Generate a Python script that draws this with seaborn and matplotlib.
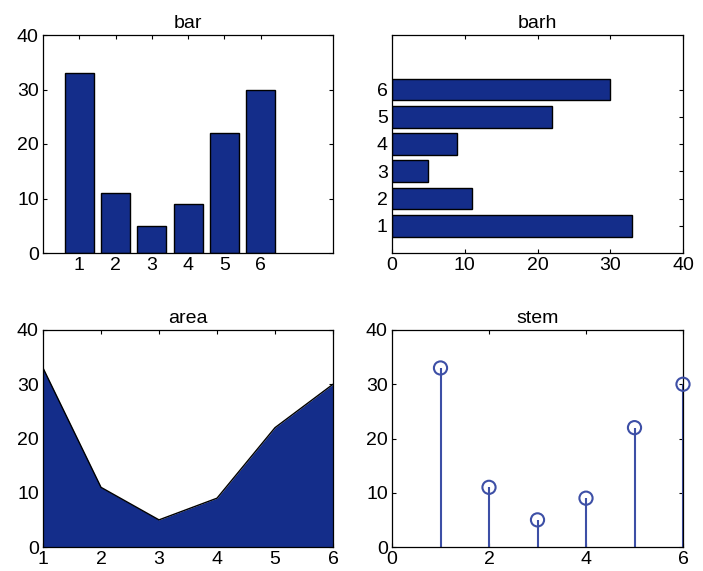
import numpy as np
import pandas as pd
import matplotlib
matplotlib.use('Agg')
import matplotlib.pyplot as plt
import seaborn as sns

# Data
positions = [1, 2, 3, 4, 5, 6]
values = [33, 11, 5, 9, 22, 30]

BAR_COLOR = "#142d8a"
STEM_COLOR = "#3d4fa6"

sns.set_style("ticks", {"xtick.direction": "in", "ytick.direction": "in"})
plt.rcParams['font.family'] = ['Liberation Sans', 'DejaVu Sans']
plt.rcParams['xtick.labelsize'] = 14
plt.rcParams['ytick.labelsize'] = 14
plt.rcParams['axes.titlesize'] = 14
plt.rcParams['axes.titlecolor'] = 'black'
plt.rcParams['axes.linewidth'] = 0.9

df = pd.DataFrame({"x": positions, "y": values})

fig = plt.figure(figsize=(7.03, 5.71), dpi=100)
W, H = 703, 571


def add_ax(left, top, right, bottom):
    return fig.add_axes([left / W, 1 - bottom / H, (right - left) / W, (bottom - top) / H])


ax_bar = add_ax(43, 35, 333, 253)
ax_barh = add_ax(392, 35, 683, 253)
ax_area = add_ax(43, 330, 333, 547)
ax_stem = add_ax(392, 330, 683, 547)

# --- bar ---
sns.barplot(data=df, x="x", y="y", native_scale=True, width=0.8, color=BAR_COLOR,
            saturation=1, edgecolor="black", linewidth=1, ax=ax_bar)
ax_bar.set_xlim(0, 8)
ax_bar.set_ylim(0, 40)
ax_bar.set_xticks(positions)
ax_bar.set_yticks([0, 10, 20, 30, 40])
ax_bar.set_title("bar", pad=5)

# --- barh ---
sns.barplot(data=df, x="y", y="x", orient="h", native_scale=True, width=0.8, color=BAR_COLOR,
            saturation=1, edgecolor="black", linewidth=1, ax=ax_barh)
ax_barh.set_ylim(0, 8)
ax_barh.set_xlim(0, 40)
ax_barh.set_yticks(positions)
ax_barh.set_xticks([0, 10, 20, 30, 40])
ax_barh.set_title("barh", pad=5)

# --- area ---
ax_area.fill_between(df["x"], df["y"], color=BAR_COLOR, linewidth=0)
sns.lineplot(data=df, x="x", y="y", color="black", linewidth=1, ax=ax_area)
ax_area.set_xlim(1, 6)
ax_area.set_ylim(0, 40)
ax_area.set_xticks(positions)
ax_area.set_yticks([0, 10, 20, 30, 40])
ax_area.set_title("area", pad=5)

# --- stem ---
ax_stem.vlines(df["x"], 0, df["y"], color=STEM_COLOR, linewidth=1.5)
sns.scatterplot(data=df, x="x", y="y", marker="o", s=90, facecolor="none",
                edgecolor=STEM_COLOR, linewidth=1.5, ax=ax_stem, clip_on=False, zorder=3)
ax_stem.set_xlim(0, 6)
ax_stem.set_ylim(0, 40)
ax_stem.set_xticks([0, 2, 4, 6])
ax_stem.set_yticks([0, 10, 20, 30, 40])
ax_stem.set_title("stem", pad=5)

for ax in [ax_bar, ax_barh, ax_area, ax_stem]:
    ax.set_xlabel("")
    ax.set_ylabel("")
    for s in ax.spines.values():
        s.set_visible(True)
        s.set_color("black")
    ax.tick_params(which="both", direction="in", top=True, right=True, length=3,
                   width=0.8, colors="black", labelcolor="black", pad=3)

fig.savefig("out.png", dpi=100)
